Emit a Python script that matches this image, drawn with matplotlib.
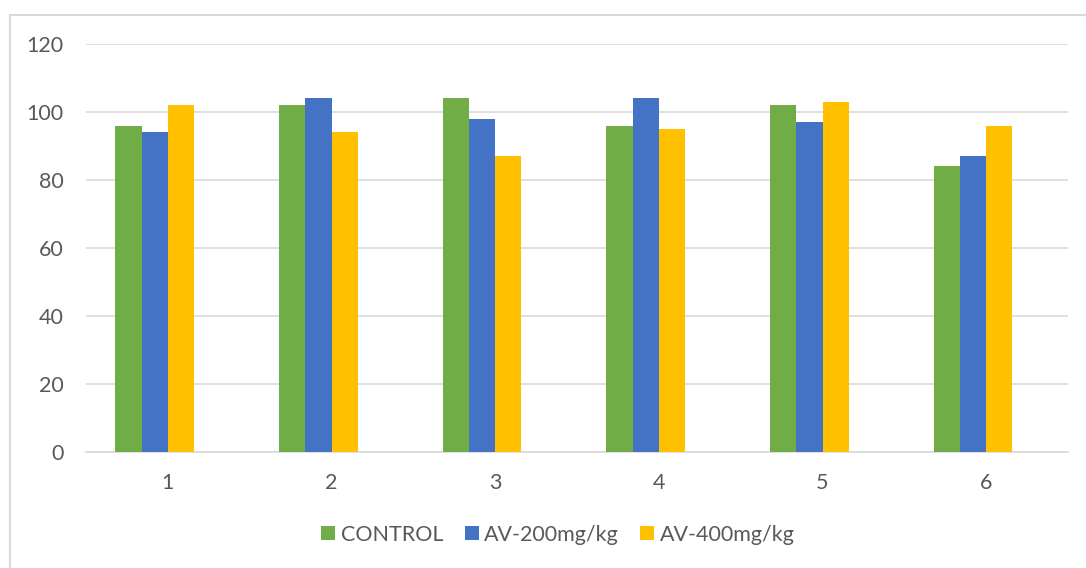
import numpy as np
import matplotlib.pyplot as plt
from matplotlib.patches import Rectangle

plt.rcParams['font.family'] = ['Lato', 'DejaVu Sans']

# Datos por grupo
grupos = ['1', '2', '3', '4', '5', '6']
control = [96, 102, 104, 96, 102, 84]
av_200 = [94, 104, 98, 104, 97, 87]
av_400 = [102, 94, 87, 95, 103, 96]
series = ['CONTROL', 'AV-200mg/kg', 'AV-400mg/kg']
colores = ['#70AD47', '#4472C4', '#FFC000']

fig = plt.figure(figsize=(10.86, 5.68), dpi=100)
ax = fig.add_axes([86 / 1086, 1 - 452 / 568, 982 / 1086, 408 / 568])

x = np.arange(len(grupos))
ancho = 0.16
# cuatro huecos por grupo, el último vacío
for i, (vals, nombre, c) in enumerate(zip([control, av_200, av_400], series, colores)):
    ax.bar(x + (i - 1.5) * ancho, vals, ancho, color=c, label=nombre, zorder=3)

ax.set_xlim(-0.5, len(grupos) - 0.5)
ax.set_ylim(0, 120)
ax.set_yticks(range(0, 121, 20))
ax.set_xticks(x)
ax.set_xticklabels(grupos)
ax.yaxis.grid(True, color='#D9D9D9', linewidth=1.2, zorder=0)
for s in ['top', 'right', 'left']:
    ax.spines[s].set_visible(False)
ax.spines['bottom'].set_color('#D9D9D9')
ax.spines['bottom'].set_linewidth(1.2)
ax.tick_params(length=0, labelsize=15.5, labelcolor='#595959')
ax.tick_params(axis='y', pad=16)
ax.tick_params(axis='x', pad=15)

ax.legend(loc='center', bbox_to_anchor=((558 - 86) / 982, -0.203), ncol=3, frameon=False,
          fontsize=15.5, labelcolor='#595959', handlelength=0.65, handleheight=0.65,
          handletextpad=0.25, columnspacing=1.0)

# Marco del gráfico
fig.patches.append(Rectangle((10 / 1086, -0.1), 1.2, 1 - 15 / 568 + 0.1,
                             transform=fig.transFigure, fill=False,
                             edgecolor='#D9D9D9', linewidth=1.5))

fig.savefig('out.png', dpi=100)
